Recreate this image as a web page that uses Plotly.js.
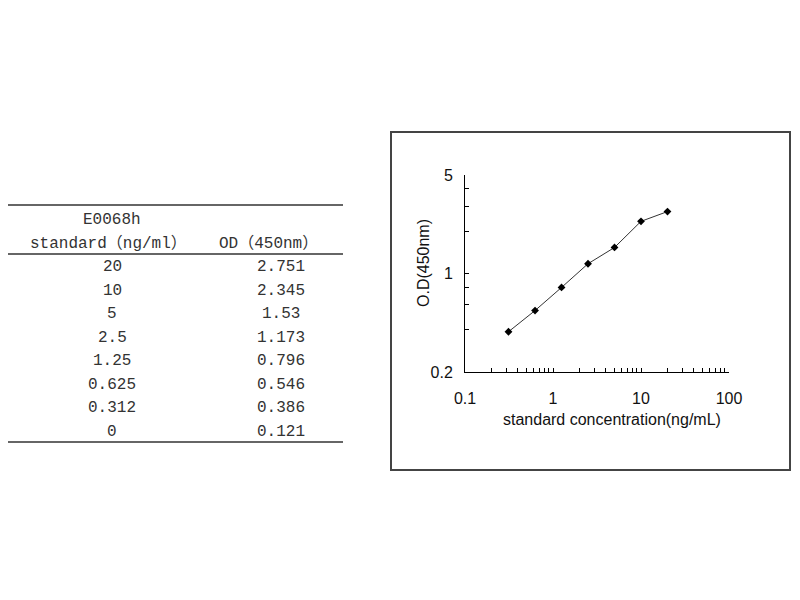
<!DOCTYPE html>
<html>
<head>
<meta charset="utf-8">
<script src="https://cdn.plot.ly/plotly-3.0.1.min.js"></script>
<style>html,body{margin:0;padding:0;background:#fff;}#chart{width:800px;height:600px;}</style>
</head>
<body>
<div id="chart"></div>
<script>
// ---- data ----
const standardConc = ["20", "10", "5", "2.5", "1.25", "0.625", "0.312", "0"];
const odValues = ["2.751", "2.345", "1.53", "1.173", "0.796", "0.546", "0.386", "0.121"];
const headerCol1 = ["E0068h", "standard（ng/ml）"];
const headerCol2 = "OD（450nm）";
const xTickVals = [0.1, 0.2, 0.3, 0.4, 0.5, 0.6, 0.7, 0.8, 0.9, 1, 2, 3, 4, 5, 6, 7, 8, 9, 10, 20, 30, 40, 50, 60, 70, 80, 90, 100];
const xTickLabels = { "0.1": "0.1", "1": "1", "10": "10", "100": "100" };
const yTickVals = [0.2, 0.4, 0.6, 0.8, 1, 2, 3, 4, 5];
const yTickLabels = { "0.2": "0.2", "1": "1", "5": "5" };
const xTitle = "standard concentration(ng/mL)";
const yTitle = "O.D(450nm)";

// ---- helpers (pixel -> paper) ----
const W = 800, H = 600;
const px = v => v / W;
const py = v => 1 - v / H;

const curveX = [], curveY = [];
standardConc.forEach((c, i) => {
  const x = parseFloat(c);
  if (x > 0) { curveX.push(x); curveY.push(parseFloat(odValues[i])); }
});

const tableFont = { family: "Liberation Mono, 'Noto Sans CJK SC', monospace", size: 16, color: "#333" };
const axisFamily = "Liberation Sans, Arial, sans-serif";

// table text as annotations
const annotations = [];
const textAnn = (text, x, y, font) => ({
  text, xref: "paper", yref: "paper", x: px(x), y: py(y),
  xanchor: "center", yanchor: "middle", showarrow: false, font
});
annotations.push(textAnn(headerCol1[0], 112, 220, tableFont));
annotations.push(textAnn(headerCol1[1], 108, 243, tableFont));
annotations.push(textAnn(headerCol2, 268, 243, tableFont));
const rowTop = 267, rowStep = 23.57;
standardConc.forEach((c, i) => {
  annotations.push(textAnn(c, 112, rowTop + i * rowStep, tableFont));
  annotations.push(textAnn(odValues[i], 281, rowTop + i * rowStep, tableFont));
});
// axis titles
annotations.push(textAnn(xTitle, 612, 419, { family: axisFamily, size: 16, color: "#111" }));
annotations.push(Object.assign(textAnn(yTitle, 423, 263, { family: axisFamily, size: 16, color: "#111" }), { textangle: -90 }));

const curveTrace = {
  type: "scatter",
  mode: "lines+markers",
  x: curveX,
  y: curveY,
  line: { color: "#333", width: 1 },
  marker: { symbol: "diamond", size: 6, color: "#000" },
  showlegend: false,
  hoverinfo: "x+y"
};

const axisFont = { family: axisFamily, size: 16, color: "#111" };

const layout = {
  width: W, height: H,
  margin: { l: 0, r: 0, t: 0, b: 0 },
  paper_bgcolor: "#fff",
  plot_bgcolor: "rgba(0,0,0,0)",
  showlegend: false,
  xaxis: {
    type: "log",
    domain: [px(465), px(729)],
    range: [-1, 2],
    tickmode: "array",
    tickvals: xTickVals,
    ticktext: xTickVals.map(v => xTickLabels[String(v)] || ""),
    ticks: "inside", ticklen: 4, tickcolor: "#000", tickwidth: 1,
    showline: true, linecolor: "#000", linewidth: 1, mirror: false,
    showgrid: false, zeroline: false,
    tickfont: axisFont,
    ticklabelstandoff: 12,
    anchor: "y"
  },
  yaxis: {
    type: "log",
    domain: [py(372), py(175)],
    range: [Math.log10(0.2), Math.log10(5)],
    tickmode: "array",
    tickvals: yTickVals,
    ticktext: yTickVals.map(v => yTickLabels[String(v)] || ""),
    ticks: "inside", ticklen: 4, tickcolor: "#000", tickwidth: 1,
    showline: true, linecolor: "#000", linewidth: 1, mirror: false,
    showgrid: false, zeroline: false,
    tickfont: axisFont,
    ticklabelstandoff: 8,
    anchor: "x"
  },
  annotations,
  shapes: [
    { type: "rect", xref: "paper", yref: "paper", x0: px(391), x1: px(790), y0: py(132), y1: py(470),
      line: { color: "#444", width: 2 }, fillcolor: "rgba(0,0,0,0)", layer: "below" },
    { type: "line", xref: "paper", yref: "paper", x0: px(8), x1: px(343), y0: py(205), y1: py(205), line: { color: "#666", width: 2 } },
    { type: "line", xref: "paper", yref: "paper", x0: px(8), x1: px(343), y0: py(254), y1: py(254), line: { color: "#666", width: 2 } },
    { type: "line", xref: "paper", yref: "paper", x0: px(8), x1: px(343), y0: py(442), y1: py(442), line: { color: "#666", width: 2 } }
  ]
};

Plotly.newPlot("chart", [curveTrace], layout, { displayModeBar: false, staticPlot: true });
</script>
</body>
</html>
